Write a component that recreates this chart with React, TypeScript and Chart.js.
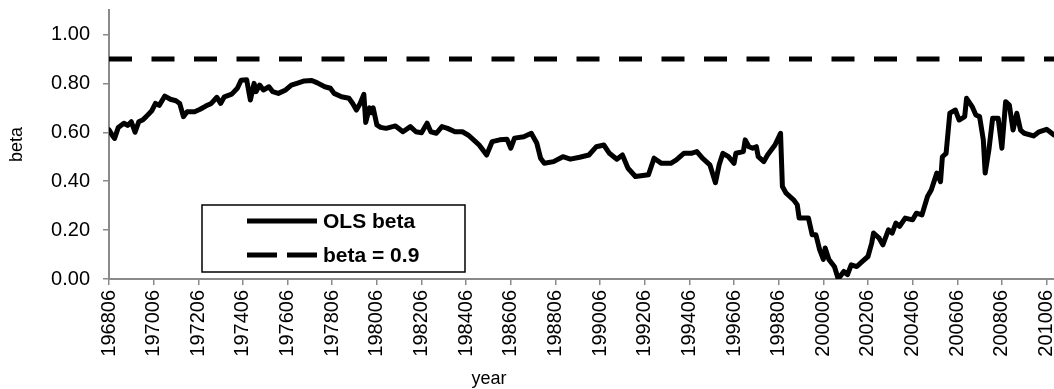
import React, { useEffect, useRef } from 'react';
import { Chart, registerables } from 'chart.js';

Chart.register(...registerables);

// ---- data ----
const months = [
  '196806','196808','196809','196811','196902','196904','196906','196908','196910','196912',
  '197002','197005','197007','197009','197012','197103','197106','197108','197110','197112',
  '197204','197207','197210','197301','197304','197306','197308','197312','197403','197405',
  '197408','197410','197412','197501','197503','197505','197508','197510','197601','197605',
  '197608','197611','197703','197707','197710','197802','197805','197807','197811','197903',
  '197905','197907','197909','197911','197912','198002','198003','198004','198006','198008',
  '198011','198104','198108','198112','198203','198206','198209','198211','198302','198305',
  '198308','198312','198404','198407','198410','198501','198505','198508','198512','198604',
  '198606','198608','198701','198705','198708','198710','198712','198805','198810','198902',
  '198907','198912','199004','199008','199011','199103','199106','199109','199201','199204',
  '199208','199211','199303','199308','199311','199403','199407','199410','199501','199505',
  '199508','199510','199512','199603','199606','199607','199611','199612','199702','199704',
  '199706','199707','199710','199712','199804','199807','199808','199810','199902','199904',
  '199905','199910','199912','200002','200004','200006','200007','200009','200012','200102',
  '200105','200107','200109','200112','200203','200206','200208','200209','200212','200302',
  '200305','200307','200309','200311','200402','200406','200408','200411','200502','200504',
  '200507','200509','200510','200512','200602','200605','200607','200610','200611','200702',
  '200704','200706','200708','200709','200711','200801','200804','200806','200808','200810',
  '200812','200902','200904','200906','200911','201002','201006','201010'
];

const olsBeta = [
  0.61, 0.585, 0.575, 0.62, 0.637, 0.628, 0.643, 0.60, 0.643, 0.65,
  0.664, 0.688, 0.718, 0.71, 0.748, 0.735, 0.729, 0.718, 0.664, 0.684,
  0.684, 0.694, 0.707, 0.718, 0.743, 0.718, 0.745, 0.756, 0.78, 0.813,
  0.815, 0.732, 0.80, 0.766, 0.793, 0.773, 0.786, 0.766, 0.759, 0.773,
  0.793, 0.80, 0.81, 0.812, 0.802, 0.786, 0.78, 0.759, 0.745, 0.739,
  0.718, 0.691, 0.718, 0.755, 0.64, 0.70, 0.68, 0.70, 0.63, 0.62,
  0.616, 0.626, 0.602, 0.623, 0.602, 0.598, 0.637, 0.602, 0.596, 0.623,
  0.616, 0.602, 0.602, 0.589, 0.569, 0.548, 0.507, 0.562, 0.569, 0.571,
  0.535, 0.576, 0.582, 0.596, 0.555, 0.494, 0.473, 0.48, 0.50, 0.49,
  0.498, 0.507, 0.541, 0.548, 0.514, 0.49, 0.507, 0.453, 0.419, 0.422,
  0.426, 0.494, 0.473, 0.473, 0.487, 0.514, 0.514, 0.521, 0.494, 0.467,
  0.394, 0.467, 0.514, 0.50, 0.473, 0.514, 0.521, 0.569, 0.541, 0.535,
  0.541, 0.50, 0.48, 0.507, 0.548, 0.596, 0.378, 0.351, 0.324, 0.303,
  0.249, 0.249, 0.181, 0.181, 0.12, 0.08, 0.127, 0.08, 0.05, 0.0,
  0.031, 0.018, 0.058, 0.051, 0.072, 0.092, 0.147, 0.188, 0.167, 0.14,
  0.201, 0.188, 0.229, 0.215, 0.249, 0.242, 0.269, 0.262, 0.337, 0.364,
  0.433, 0.398, 0.50, 0.514, 0.678, 0.691, 0.65, 0.664, 0.739, 0.705,
  0.671, 0.664, 0.569, 0.433, 0.528, 0.657, 0.657, 0.535, 0.725, 0.711,
  0.609, 0.678, 0.609, 0.596, 0.585, 0.602, 0.612, 0.589
];

const thresholdBeta = 0.9;

const xTickLabels = [
  '196806','197006','197206','197406','197606','197806','198006','198206','198406','198606',
  '198806','199006','199206','199406','199606','199806','200006','200206','200406','200606',
  '200806','201006'
];
const yTickValues = [0, 0.2, 0.4, 0.6, 0.8, 1.0];
const yMin = 0;
const yMax = 1.1;

const seriesLabels = ['OLS beta', 'beta = 0.9'];
const xTitle = 'year';
const yTitle = 'beta';

// ---- helpers ----
const baseYear = parseInt(months[0].slice(0, 4), 10);
const baseMonth = parseInt(months[0].slice(4), 10);
const toIndex = (s: string) =>
  (parseInt(s.slice(0, 4), 10) - baseYear) * 12 + (parseInt(s.slice(4), 10) - baseMonth);

const FONT = '"Liberation Sans", Arial, Helvetica, sans-serif';
const AXIS_GRAY = '#8a8a8a';

const legendPlugin = {
  id: 'boxLegend',
  afterDraw(chart: any) {
    const { ctx, chartArea } = chart;
    const x0 = chartArea.left + 93;
    const y0 = 205;
    const w = 263;
    const h = 67;
    ctx.save();
    ctx.fillStyle = '#ffffff';
    ctx.fillRect(x0, y0, w, h);
    ctx.strokeStyle = '#000000';
    ctx.lineWidth = 1.5;
    ctx.strokeRect(x0, y0, w, h);
    chart.data.datasets.forEach((ds: any, i: number) => {
      const y = y0 + 16 + i * 34;
      ctx.beginPath();
      ctx.setLineDash(ds.borderDash && ds.borderDash.length ? [30, 10] : []);
      ctx.lineWidth = 5;
      ctx.lineCap = 'butt';
      ctx.strokeStyle = ds.borderColor;
      ctx.moveTo(x0 + 45, y);
      ctx.lineTo(x0 + 115, y);
      ctx.stroke();
      ctx.setLineDash([]);
      ctx.fillStyle = '#000000';
      ctx.font = `bold 21px ${FONT}`;
      ctx.textBaseline = 'middle';
      ctx.textAlign = 'left';
      ctx.fillText(ds.label, x0 + 121, y + 1);
    });
    ctx.restore();
  },
};

const xTitlePlugin = {
  id: 'xTitle',
  afterDraw(chart: any) {
    const { ctx, chartArea } = chart;
    ctx.save();
    ctx.fillStyle = '#000000';
    ctx.font = `18px ${FONT}`;
    ctx.textAlign = 'center';
    ctx.textBaseline = 'middle';
    ctx.fillText(xTitle, chartArea.left + 380, 379);
    ctx.restore();
  },
};

export default function App() {
  const canvasRef = useRef<HTMLCanvasElement | null>(null);

  useEffect(() => {
    if (!canvasRef.current) return;
    const first = toIndex(months[0]);
    const last = toIndex(months[months.length - 1]);
    const chart = new Chart(canvasRef.current, {
      type: 'line',
      data: {
        datasets: [
          {
            label: seriesLabels[0],
            data: months.map((m, i) => ({ x: toIndex(m), y: olsBeta[i] })),
            borderColor: '#000000',
            borderWidth: 5,
            pointRadius: 0,
            tension: 0,
            borderJoinStyle: 'round',
            borderCapStyle: 'round',
            fill: false,
          },
          {
            label: seriesLabels[1],
            data: [
              { x: first, y: thresholdBeta },
              { x: last, y: thresholdBeta },
            ],
            borderColor: '#000000',
            borderWidth: 5,
            borderDash: [23, 19.5],
            borderCapStyle: 'butt',
            pointRadius: 0,
            fill: false,
          },
        ],
      },
      options: {
        responsive: false,
        animation: false,
        events: [],
        layout: { padding: { top: 10, right: 0, bottom: 0, left: 0 } },
        plugins: {
          legend: { display: false },
          tooltip: { enabled: false },
          title: { display: false },
        },
        scales: {
          x: {
            type: 'linear',
            min: first,
            max: last,
            afterBuildTicks: (scale: any) => {
              scale.ticks = xTickLabels.map((l) => ({ value: toIndex(l) }));
            },
            afterFit: (scale: any) => {
              scale.height = 110;
              scale.paddingLeft = 0;
              scale.paddingRight = 0;
            },
            ticks: {
              autoSkip: false,
              minRotation: 90,
              maxRotation: 90,
              padding: 5,
              color: '#000000',
              font: { family: FONT, size: 20 },
              callback: (_v: any, i: number) => xTickLabels[i],
            },
            grid: {
              drawOnChartArea: false,
              drawTicks: true,
              tickLength: 6,
              color: AXIS_GRAY,
              lineWidth: 1.5,
            },
            border: { display: true, color: AXIS_GRAY, width: 2 },
          },
          y: {
            type: 'linear',
            min: yMin,
            max: yMax,
            afterBuildTicks: (scale: any) => {
              scale.ticks = yTickValues.map((v) => ({ value: v }));
            },
            afterFit: (scale: any) => {
              scale.width = 109;
              scale.paddingTop = 0;
              scale.paddingBottom = 0;
            },
            ticks: {
              padding: 13,
              color: '#000000',
              font: { family: FONT, size: 20 },
              callback: (v: any) => Number(v).toFixed(2),
            },
            grid: {
              drawOnChartArea: false,
              drawTicks: true,
              tickLength: 6,
              color: AXIS_GRAY,
              lineWidth: 1.5,
            },
            border: { display: true, color: AXIS_GRAY, width: 2 },
            title: {
              display: true,
              text: yTitle,
              color: '#000000',
              font: { family: FONT, size: 18 },
              padding: { top: 6, bottom: 0 },
            },
          },
        },
      },
      plugins: [legendPlugin, xTitlePlugin],
    } as any);
    return () => chart.destroy();
  }, []);

  return (
    <div style={{ position: 'fixed', left: 0, top: 0, width: 1054, height: 389, background: '#fff' }}>
      <canvas ref={canvasRef} width={1054} height={389} style={{ display: 'block' }} />
    </div>
  );
}
